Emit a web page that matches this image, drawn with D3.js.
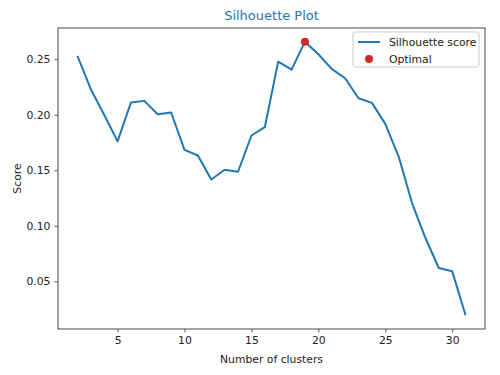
<!DOCTYPE html>
<html>
<head>
<meta charset="utf-8">
<script src="https://cdn.jsdelivr.net/npm/d3@7"></script>
<style>
  body { margin: 0; background: #fff; }
  svg { font-family: "DejaVu Sans", sans-serif; }
</style>
</head>
<body>
<div id="chart"></div>
<script>
// Silhouette score for each number of clusters
const clusters = [2, 3, 4, 5, 6, 7, 8, 9, 10, 11, 12, 13, 14, 15, 16, 17, 18, 19, 20,
  21, 22, 23, 24, 25, 26, 27, 28, 29, 30, 31];
const scores = [0.253, 0.223, 0.200, 0.176, 0.211, 0.2125, 0.2005, 0.202, 0.1684, 0.1633,
  0.1417, 0.1505, 0.1487, 0.1813, 0.1888, 0.2478, 0.2406, 0.2658, 0.2545, 0.2413,
  0.2329, 0.2149, 0.2107, 0.1918, 0.1624, 0.1205, 0.089, 0.062, 0.059, 0.0194];
const xTicks = [5, 10, 15, 20, 25, 30];
const yTicks = [0.05, 0.10, 0.15, 0.20, 0.25];

const data = clusters.map((c, i) => ({ k: c, score: scores[i] }));
// best point
const best = data.reduce((a, b) => (b.score > a.score ? b : a));

const margin = { top: 28, right: 15, bottom: 46, left: 58 },
  width = 500 - margin.left - margin.right,
  height = 375 - margin.top - margin.bottom;

const svg = d3.select("#chart").append("svg")
  .attr("width", 500)
  .attr("height", 375)
  .append("g")
  .attr("transform", `translate(${margin.left},${margin.top})`);

// matplotlib style 5% padding on both axes
const xExt = d3.extent(clusters), yExt = d3.extent(scores);
const xPad = (xExt[1] - xExt[0]) * 0.05, yPad = (yExt[1] - yExt[0]) * 0.05;

const x = d3.scaleLinear()
  .domain([xExt[0] - xPad, xExt[1] + xPad])
  .range([0, width]);

const y = d3.scaleLinear()
  .domain([yExt[0] - yPad, yExt[1] + yPad])
  .range([height, 0]);

// axes
const xAxis = svg.append("g")
  .attr("transform", `translate(0,${height})`)
  .call(d3.axisBottom(x).tickValues(xTicks).tickFormat(d3.format("d")).tickSize(3.5).tickPadding(4));

const yAxis = svg.append("g")
  .call(d3.axisLeft(y).tickValues(yTicks).tickFormat(d3.format(".2f")).tickSize(3.5).tickPadding(4));

[xAxis, yAxis].forEach(a => {
  a.select(".domain").remove();
  a.selectAll("line").attr("stroke", "#333").attr("stroke-width", 0.8);
  a.selectAll("text").attr("fill", "#222").style("font-size", "10.8px")
    .style("font-family", "DejaVu Sans, sans-serif");
});

// frame
svg.append("rect")
  .attr("width", width)
  .attr("height", height)
  .attr("fill", "none")
  .attr("stroke", "#333")
  .attr("stroke-width", 0.9);

const line = d3.line()
  .x(d => x(d.k))
  .y(d => y(d.score));

svg.append("path")
  .datum(data)
  .attr("d", line)
  .attr("fill", "none")
  .attr("stroke", "#1f77b4")
  .attr("stroke-width", 2)
  .attr("stroke-linejoin", "round");

svg.append("circle")
  .attr("cx", x(best.k))
  .attr("cy", y(best.score))
  .attr("r", 4)
  .attr("fill", "#d62728");

// title and labels
svg.append("text")
  .attr("x", width / 2)
  .attr("y", -8)
  .attr("text-anchor", "middle")
  .style("font-size", "13px")
  .attr("fill", "#1f77b4")
  .text("Silhouette Plot");

svg.append("text")
  .attr("x", width / 2)
  .attr("y", height + 34)
  .attr("text-anchor", "middle")
  .style("font-size", "10.8px")
  .attr("fill", "#222")
  .text("Number of clusters");

svg.append("text")
  .attr("transform", `translate(${-37},${height / 2}) rotate(-90)`)
  .attr("text-anchor", "middle")
  .style("font-size", "10.8px")
  .attr("fill", "#222")
  .text("Score");

// legend
const legend = svg.append("g")
  .attr("transform", `translate(${width - 132},4)`);

legend.append("rect")
  .attr("width", 126)
  .attr("height", 35)
  .attr("rx", 2)
  .attr("fill", "#fff")
  .attr("fill-opacity", 0.8)
  .attr("stroke", "#ccc");

legend.append("line")
  .attr("x1", 5).attr("x2", 27)
  .attr("y1", 10).attr("y2", 10)
  .attr("stroke", "#1f77b4")
  .attr("stroke-width", 2);

legend.append("circle")
  .attr("cx", 16).attr("cy", 27)
  .attr("r", 4)
  .attr("fill", "#d62728");

legend.selectAll(".lbl")
  .data(["Silhouette score", "Optimal"])
  .enter().append("text")
  .attr("x", 36)
  .attr("y", (d, i) => 10 + i * 17)
  .attr("dy", "0.35em")
  .style("font-size", "10.8px")
  .attr("fill", "#222")
  .text(d => d);
</script>
</body>
</html>
